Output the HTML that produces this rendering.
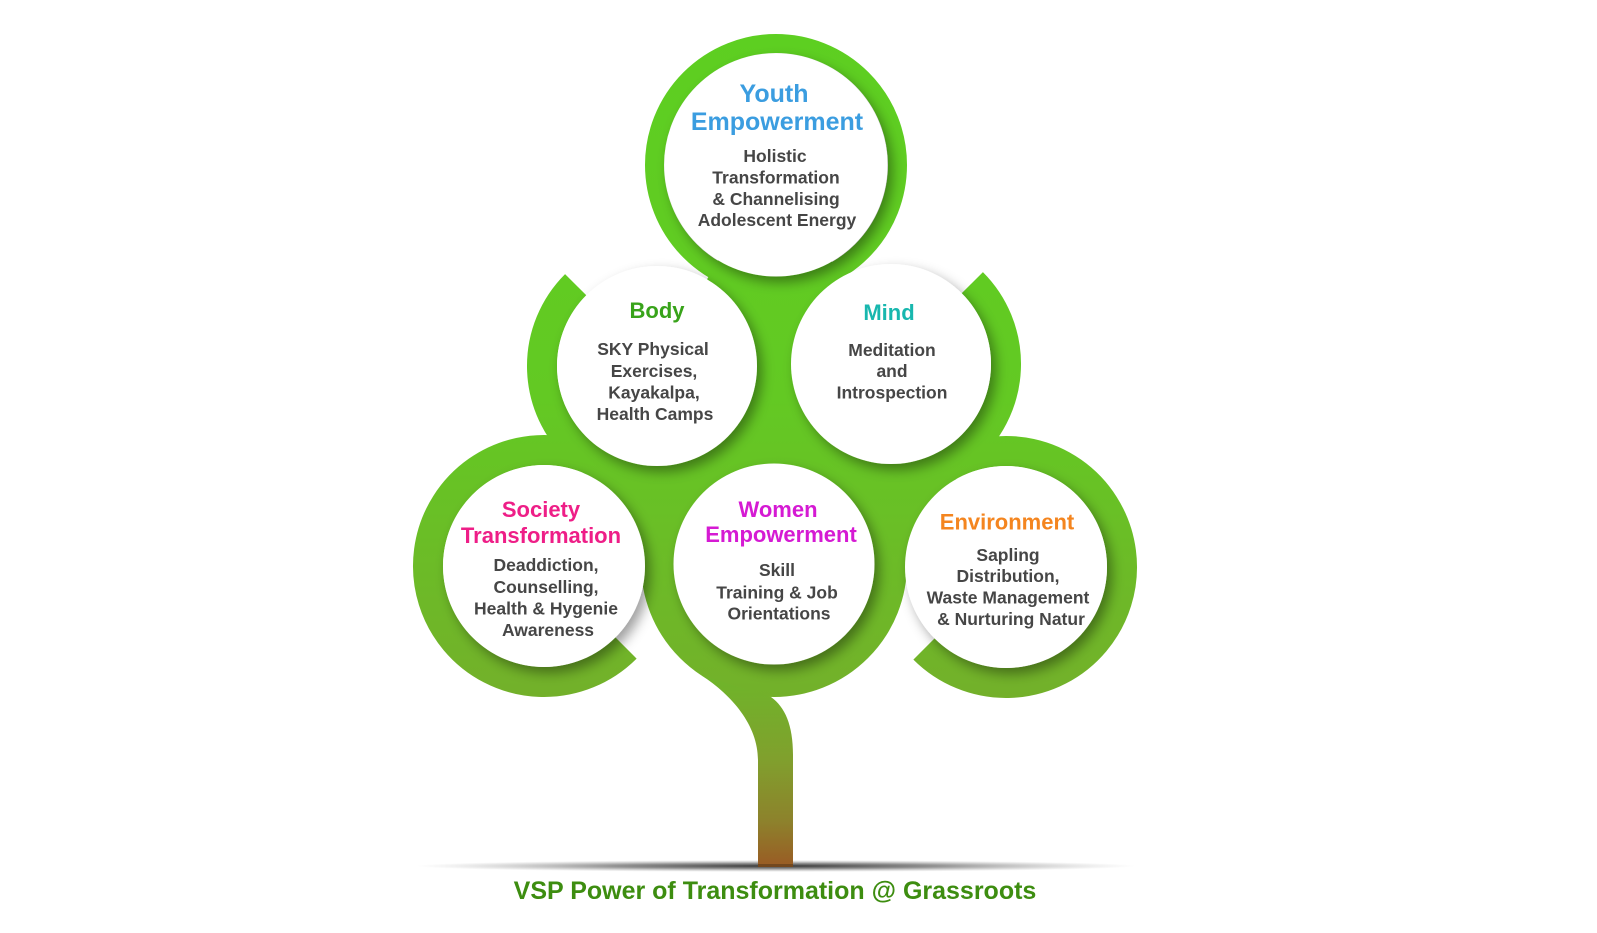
<!DOCTYPE html>
<html>
<head>
<meta charset="utf-8">
<style>
  html, body { margin:0; padding:0; background:#ffffff; }
  body { width:1597px; height:933px; overflow:hidden; }
  svg { display:block; }
  text { font-family: "Liberation Sans", "DejaVu Sans", sans-serif; font-weight:bold; text-anchor:middle; }
  .t { font-size:22px; }
  .ty { font-size:25px; }
  .b { font-size:17.5px; fill:#464646; }
</style>
</head>
<body>
<svg width="1597" height="933" viewBox="0 0 1597 933" xmlns="http://www.w3.org/2000/svg">
  <defs>
    <linearGradient id="g" gradientUnits="userSpaceOnUse" x1="0" y1="30" x2="0" y2="700">
      <stop offset="0" stop-color="#5dcf21"/>
      <stop offset="0.55" stop-color="#63c923"/>
      <stop offset="1" stop-color="#73b02a"/>
    </linearGradient>
    <linearGradient id="tr" gradientUnits="userSpaceOnUse" x1="0" y1="680" x2="0" y2="868">
      <stop offset="0" stop-color="#6fb42a"/>
      <stop offset="0.42" stop-color="#80a02d"/>
      <stop offset="0.75" stop-color="#8d822c"/>
      <stop offset="1" stop-color="#9a5a24"/>
    </linearGradient>
    <radialGradient id="gs" cx="0.5" cy="0.5" r="0.5">
      <stop offset="0" stop-color="#1e1e1e" stop-opacity="0.9"/>
      <stop offset="0.45" stop-color="#3a3a3a" stop-opacity="0.55"/>
      <stop offset="1" stop-color="#888" stop-opacity="0"/>
    </radialGradient>
    <filter id="sh" x="-30%" y="-30%" width="160%" height="160%">
      <feDropShadow dx="5" dy="6" stdDeviation="6" flood-color="#000" flood-opacity="0.38"/>
    </filter>
  </defs>

  <!-- ground shadow -->
  <ellipse cx="776" cy="866" rx="360" ry="6" fill="url(#gs)"/>

  <!-- green tree body -->
  <g fill="none" stroke="url(#g)">
    <!-- central fill -->
    <polygon points="776,165 891,364 1006,567 774,564 544,566 657,366" fill="url(#g)" stroke="none"/>
    <!-- youth ring -->
    <circle cx="776" cy="165" r="121.5" stroke-width="19"/>
    <!-- body arc -->
    <path d="M 575.68 284.68 A 115 115 0 1 0 714.5 266.41" stroke-width="30"/>
    <!-- mind arc -->
    <path d="M 972.32 282.68 A 115 115 0 1 1 833.5 264.41" stroke-width="30"/>
    <!-- society arc -->
    <path d="M 626.02 648.02 A 116 116 0 1 1 644.46 508" stroke-width="30"/>
    <!-- environment arc -->
    <path d="M 923.98 649.02 A 116 116 0 1 0 905.54 509" stroke-width="30"/>
    <!-- women ring -->
    <circle cx="774" cy="564" r="116.5" stroke-width="33"/>
  </g>

  <!-- trunk -->
  <path d="M 701.6 675.5 C 731.6 695 758 725 758 760 L 758 867 L 793 867 L 793 755 C 793 725 785 707 771 697 Z" fill="url(#tr)"/>
  <rect x="758" y="864" width="35" height="3" fill="#5a3a1a" opacity="0.6"/>

  <!-- white circles -->
  <g fill="#ffffff" filter="url(#sh)">
    <circle cx="776" cy="165" r="111.5"/>
    <circle cx="657" cy="366" r="100"/>
    <circle cx="891" cy="364" r="100"/>
    <circle cx="544" cy="566" r="101"/>
    <circle cx="774" cy="564" r="100.5"/>
    <circle cx="1006" cy="567" r="101"/>
  </g>

  <!-- Youth -->
  <text class="ty" x="774" y="102" fill="#3b9de0">Youth</text>
  <text class="ty" x="777" y="130" fill="#3b9de0">Empowerment</text>
  <text class="b" x="775" y="162">Holistic</text>
  <text class="b" x="776" y="183.5">Transformation</text>
  <text class="b" x="776" y="205">&amp; Channelising</text>
  <text class="b" x="777" y="226">Adolescent Energy</text>

  <!-- Body -->
  <text class="t" x="657" y="318" fill="#38a31a">Body</text>
  <text class="b" x="653" y="355">SKY Physical</text>
  <text class="b" x="654" y="377">Exercises,</text>
  <text class="b" x="654" y="398.5">Kayakalpa,</text>
  <text class="b" x="655" y="420">Health Camps</text>

  <!-- Mind -->
  <text class="t" x="889" y="320" fill="#18b7ae">Mind</text>
  <text class="b" x="892" y="356">Meditation</text>
  <text class="b" x="892" y="377">and</text>
  <text class="b" x="892" y="398.5">Introspection</text>

  <!-- Society -->
  <text class="t" x="541" y="517" fill="#ee1e87">Society</text>
  <text class="t" x="541" y="543" fill="#ee1e87">Transformation</text>
  <text class="b" x="546" y="571">Deaddiction,</text>
  <text class="b" x="546" y="593">Counselling,</text>
  <text class="b" x="546" y="614.5">Health &amp; Hygenie</text>
  <text class="b" x="548" y="636">Awareness</text>

  <!-- Women -->
  <text class="t" x="778" y="517" fill="#d51ad3">Women</text>
  <text class="t" x="781" y="542" fill="#d51ad3">Empowerment</text>
  <text class="b" x="777" y="576">Skill</text>
  <text class="b" x="777" y="598.5">Training &amp; Job</text>
  <text class="b" x="779" y="619.5">Orientations</text>

  <!-- Environment -->
  <text class="t" x="1007" y="529.5" fill="#f4851f">Environment</text>
  <text class="b" x="1008" y="561">Sapling</text>
  <text class="b" x="1008" y="582">Distribution,</text>
  <text class="b" x="1008" y="603.5">Waste Management</text>
  <text class="b" x="1011" y="625">&amp; Nurturing Natur</text>

  <!-- Caption -->
  <text x="775" y="899" style="font-size:25px" fill="#3d8d10">VSP Power of Transformation @ Grassroots</text>
</svg>
</body>
</html>
